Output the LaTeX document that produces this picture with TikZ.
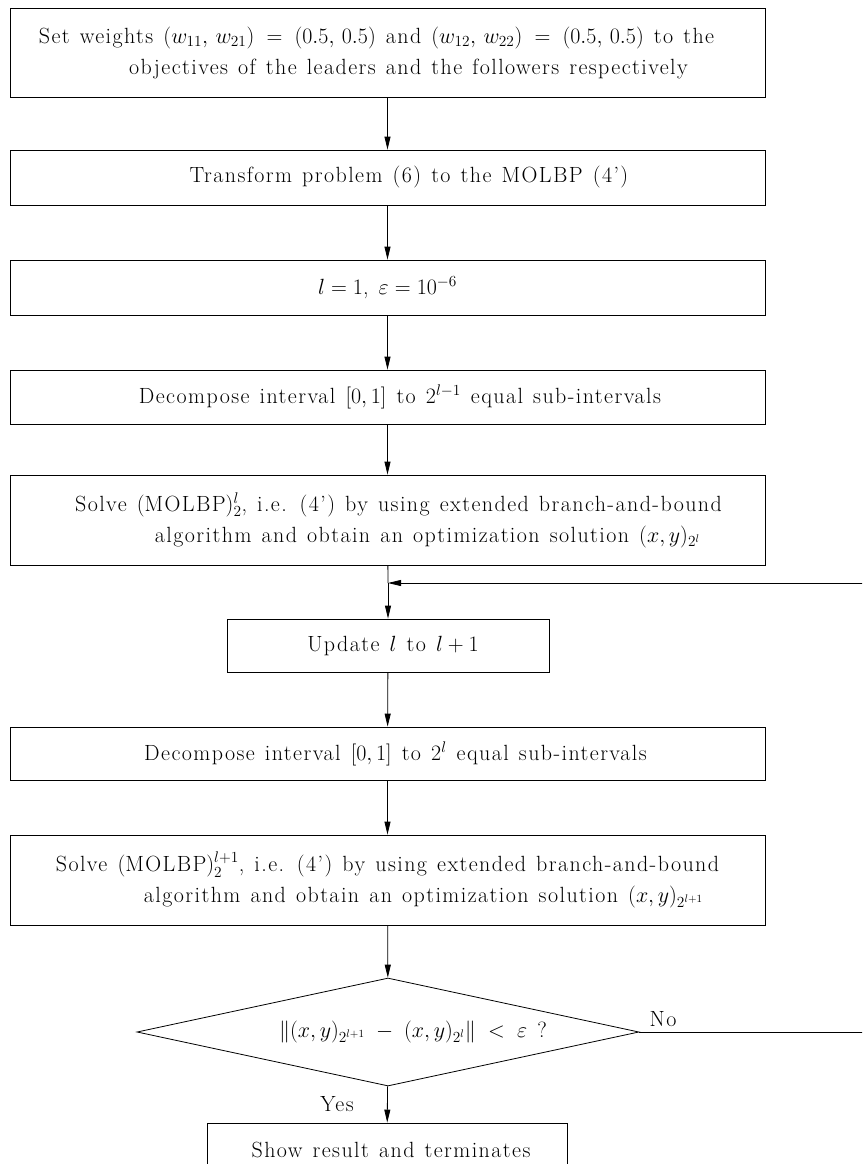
\RequirePackage{fix-cm}
\documentclass[tikz,border=0pt]{standalone}
\usepackage{amsmath,amssymb}
\usepackage{fontspec}
\setmainfont{Latin Modern Roman}[LetterSpace=6.5, WordSpace=1.25]
\usetikzlibrary{arrows.meta,shapes.geometric,positioning}

\tikzset{
	stepbox/.style={draw, line width=0.8pt, align=center, minimum width=755pt, minimum height=55pt, inner sep=0pt},
	twoline/.style={stepbox, minimum height=90pt},
	testbox/.style={draw, line width=0.8pt, diamond, aspect=4.6, minimum width=502pt, minimum height=108pt, inner sep=0pt},
	flow/.style={line width=0.8pt, -{Triangle[length=13pt,width=6pt]}},
}

\begin{document}
\begin{tikzpicture}[x=1pt, y=-1pt, font=\fontsize{22}{31}\selectfont]
	\useasboundingbox (0,0) rectangle (862,1164);
	\clip (0,0) rectangle (862,1164);

	\node[twoline, minimum height=89pt] (weights) at (387.5,52.5) {Set weights $(w_{11},\,w_{21})\;=\;(0.5,\,0.5)$ and $(w_{12},\,w_{22})\;=\;(0.5,\,0.5)$ to the\hspace*{22pt}\\ \hspace*{42pt}objectives of the leaders and the followers respectively};
	\node[stepbox] (transform) at (387.5,177.5) {\hspace*{43pt}Transform problem (6) to the MOLBP (4')};
	\node[stepbox] (init) at (387.5,287.5) {$l=1$, $\varepsilon=10^{-6}$};
	\node[stepbox, minimum height=54pt] (split) at (387.5,397) {\hspace*{25pt}Decompose interval $[0,1]$ to $2^{l-1}$ equal sub-intervals};
	\node[twoline] (solvel) at (387.5,520) {\hspace*{22pt}Solve $(\text{MOLBP})^{l}_{2}$, i.e. (4') by using extended branch-and-bound\\ \hspace*{80pt}algorithm and obtain an optimization solution $(x,y)_{2^l}$};

	\coordinate (join) at (388,583);
	\node[stepbox, minimum width=322pt, minimum height=53pt] (update) at (388,645.5) {\hspace*{10pt}Update $l$ to $l+1$};
	\node[stepbox, minimum height=53pt] (splitnext) at (387.5,753.5) {\hspace*{16pt}Decompose interval $[0,1]$ to $2^{l}$ equal sub-intervals};
	\node[twoline] (solvenext) at (387.5,880) {Solve $(\text{MOLBP})^{l+1}_{2}$, i.e. (4') by using extended branch-and-bound\\ \hspace*{72pt}algorithm and obtain an optimization solution $(x,y)_{2^{l+1}}$};

	\node[testbox] (check) at (388,1032) {\hspace*{50pt}$\|(x,y)_{2^{l+1}}\;-\;(x,y)_{2^l}\|\;<\;\varepsilon$ ?};
	\node[stepbox, minimum width=360pt, minimum height=53pt] (show) at (387,1149.5) {\hspace*{8pt}Show result and terminates};

	% main flow
	\draw[flow] (weights) -- (transform);
	\draw[flow] (transform) -- (init);
	\draw[flow] (init) -- (split);
	\draw[flow] (split) -- (solvel);
	\draw[line width=0.8pt] (solvel) -- (join);
	\draw[flow] (join) -- (update);
	\draw[flow] (update) -- (splitnext);
	\draw[flow] (splitnext) -- (solvenext);
	\draw[flow] (solvenext) -- (check);
	\draw[flow] (check) -- node[left, xshift=-30pt] {Yes} (show);

	% loop back when the test fails
	\coordinate (turn) at (880,1032);
	\coordinate (back) at (880,583);
	\draw[flow] (check.east) -- (turn) -- (back) -- (join);
	\node (no) at (663,1019) {No};
\end{tikzpicture}
\end{document}
